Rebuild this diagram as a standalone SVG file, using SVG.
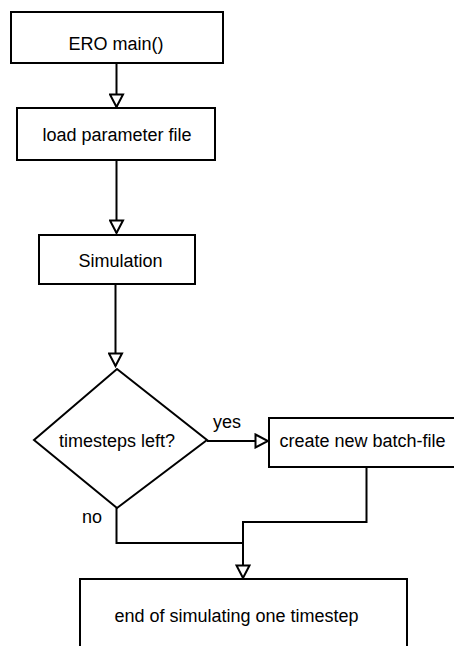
<svg xmlns="http://www.w3.org/2000/svg" width="454" height="646" viewBox="0 0 454 646">
<style>
.n{fill:#fff;stroke:#000;stroke-width:2}
.t{font-family:"Liberation Sans",Arial,sans-serif;font-size:18px;fill:#000;text-anchor:middle}
.l{font-family:"Liberation Sans",Arial,sans-serif;font-size:18px;fill:#000}
.c{fill:none;stroke:#000;stroke-width:2}
</style>
<defs>
<marker id="ah" markerUnits="userSpaceOnUse" markerWidth="16" markerHeight="16" viewBox="0 0 16 16" refX="14" refY="8" orient="auto">
<path d="M1.5,1.5 L14,8 L1.5,14.5 Z" fill="#fff" stroke="#000" stroke-width="2"/>
</marker>
</defs>
<rect width="454" height="646" fill="#fff"/>
<g id="connectors">
<path class="c" d="M116.5,63 V107" marker-end="url(#ah)"/>
<path class="c" d="M116.5,160 V233" marker-end="url(#ah)"/>
<path class="c" d="M115.5,285 V366" marker-end="url(#ah)"/>
<path class="c" d="M207,441 H268" marker-end="url(#ah)"/>
<path class="c" d="M366.5,467 V522 H243 V578" marker-end="url(#ah)"/>
<path class="c" d="M116.5,508 V543 H243"/>
<text class="l" x="213" y="428">yes</text>
<text class="l" x="82" y="523">no</text>
</g>
<g id="ero_main">
<rect class="n" x="11" y="12" width="212" height="51"/>
<text class="t" x="116" y="50">ERO main()</text>
</g>
<g id="load_param">
<rect class="n" x="17" y="108" width="198" height="52"/>
<text class="t" x="117" y="141">load parameter file</text>
</g>
<g id="simulation">
<rect class="n" x="39" y="235" width="156" height="49"/>
<text class="t" x="120.5" y="267">Simulation</text>
</g>
<g id="timesteps_left">
<polygon class="n" points="117,369 207,440 117,508 34,440"/>
<text class="t" x="117" y="447">timesteps left?</text>
</g>
<g id="create_batch">
<rect class="n" x="269" y="418" width="200" height="49"/>
<text class="t" x="362.5" y="447">create new batch-file</text>
</g>
<g id="end_timestep">
<rect class="n" x="80" y="579" width="327" height="80"/>
<text class="t" x="236.5" y="622">end of simulating one timestep</text>
</g>
</svg>
